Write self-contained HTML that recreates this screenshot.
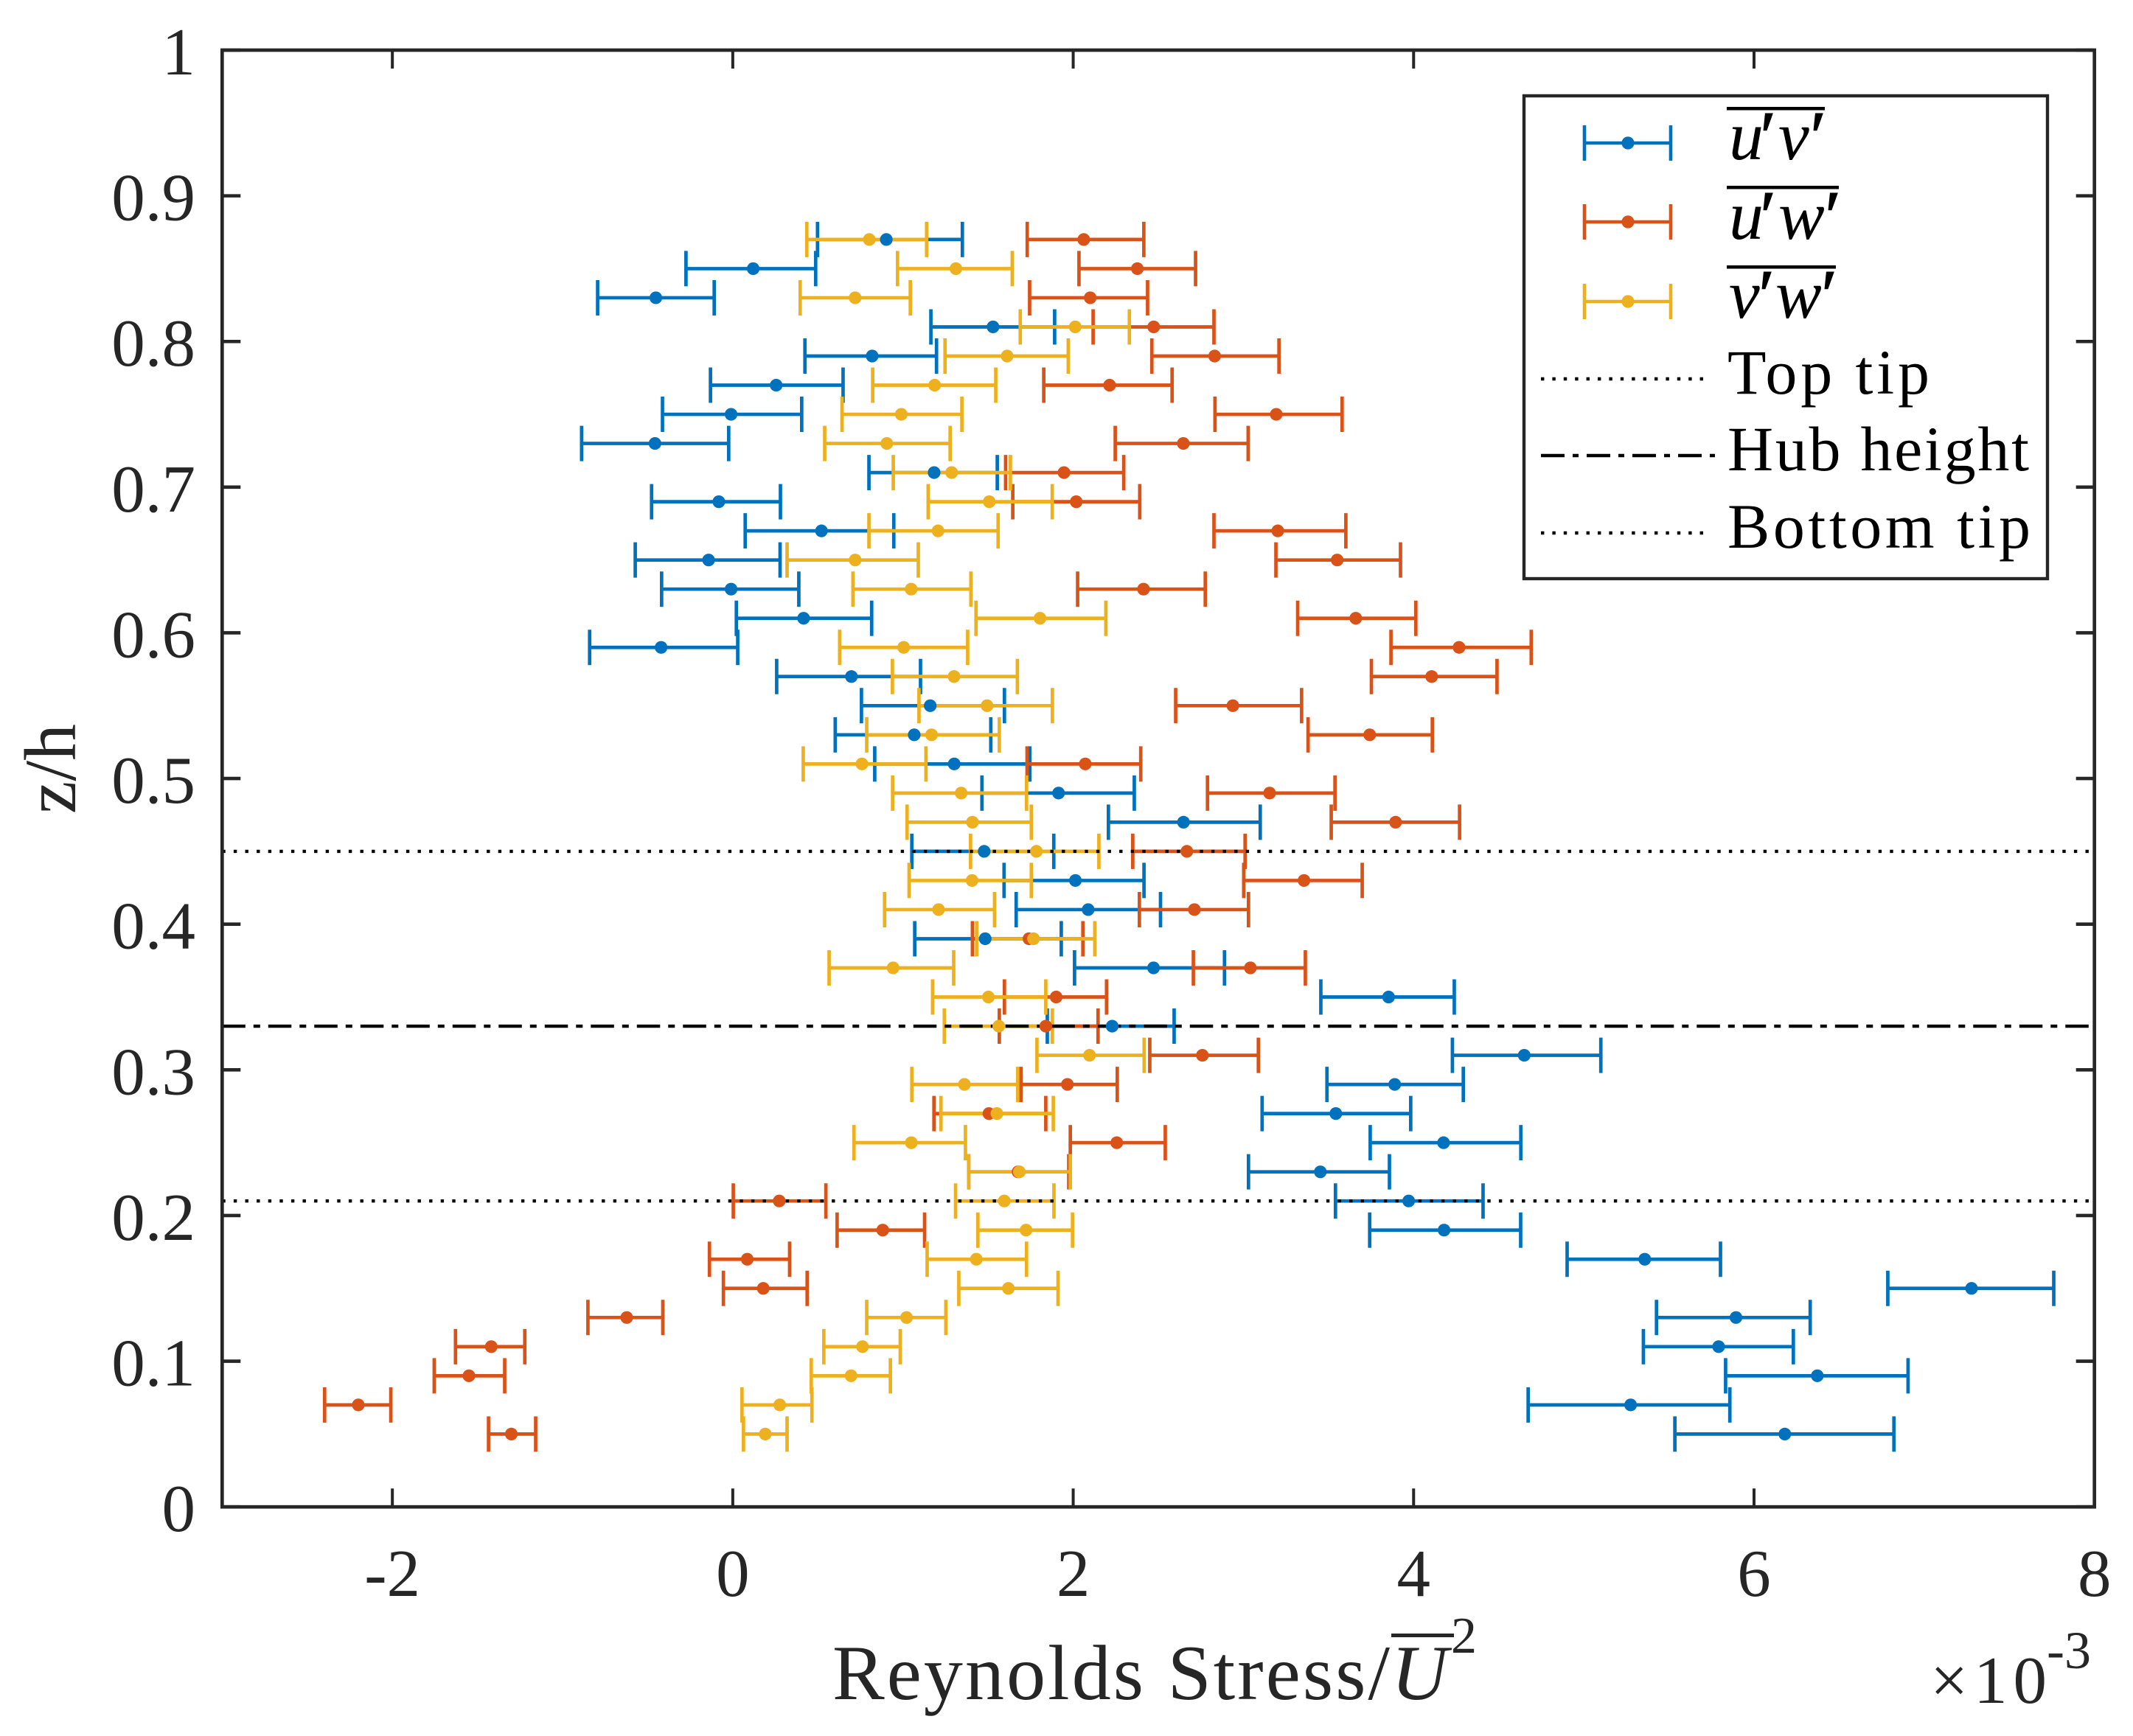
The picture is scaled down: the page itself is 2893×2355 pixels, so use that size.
<!DOCTYPE html>
<html lang="en">
<head>
<meta charset="utf-8">
<title>Reynolds Stress Profile</title>
<style>
html,body{margin:0;padding:0;background:#fff;}
body{width:2893px;height:2355px;overflow:hidden;}
svg{display:block;}
text{font-family:"Liberation Serif",serif;}
.prime{stroke:#000;stroke-width:1.6;}
</style>
</head>
<body>
<svg id="chart" xmlns="http://www.w3.org/2000/svg" width="2893" height="2355" viewBox="0 0 2893 2355">
  <rect x="0" y="0" width="2893" height="2355" fill="#ffffff"/>
  <g id="bars-layer"></g>
  <g id="lines-layer"></g>
  <g id="markers-layer"></g>
  <g id="axes-layer"></g>
  <rect x="301.3" y="68" width="2539.4" height="1976.2" fill="none" stroke="#262626" stroke-width="4.7"/>

  <text transform="translate(102,1104) rotate(-90)" font-size="100" fill="#262626" textLength="122" lengthAdjust="spacingAndGlyphs">z/h</text>
  <text x="1129" y="2305" font-size="106" fill="#262626" textLength="756" lengthAdjust="spacing">Reynolds Stress/</text>
  <text x="1887" y="2305" font-size="106" font-style="italic" fill="#262626">U</text>
  <rect x="1887" y="2216" width="85" height="5" fill="#262626"/>
  <text x="1968" y="2242" font-size="70" fill="#262626">2</text>
  <text x="2618" y="2310" font-size="91" fill="#262626" textLength="158" lengthAdjust="spacing">×10</text>
  <text x="2776" y="2263" font-size="72" fill="#262626">-3</text>

  <g>
    <rect x="2067" y="130" width="710" height="655" fill="#ffffff" stroke="#262626" stroke-width="4.4"/>

    <g stroke="#0072BD" stroke-width="4.6" fill="#0072BD">
      <line x1="2149" y1="194" x2="2266" y2="194"/>
      <line x1="2149" y1="170" x2="2149" y2="218"/>
      <line x1="2266" y1="170" x2="2266" y2="218"/>
      <circle cx="2208" cy="194" r="8.6" stroke="none"/>
    </g>
    <text y="216" font-size="94" font-style="italic" fill="#000000"><tspan x="2345">u</tspan><tspan class="prime" x="2382">′</tspan><tspan x="2412">v</tspan><tspan class="prime" x="2450">′</tspan></text>
    <rect x="2342" y="145" width="133" height="4.5" fill="#000000"/>

    <g stroke="#D95319" stroke-width="4.6" fill="#D95319">
      <line x1="2149" y1="301" x2="2266" y2="301"/>
      <line x1="2149" y1="277" x2="2149" y2="325"/>
      <line x1="2266" y1="277" x2="2266" y2="325"/>
      <circle cx="2208" cy="301" r="8.6" stroke="none"/>
    </g>
    <text y="324" font-size="94" font-style="italic" fill="#000000"><tspan x="2345">u</tspan><tspan class="prime" x="2382">′</tspan><tspan x="2412">w</tspan><tspan class="prime" x="2470">′</tspan></text>
    <rect x="2342" y="252" width="152" height="4.5" fill="#000000"/>

    <g stroke="#EDB120" stroke-width="4.6" fill="#EDB120">
      <line x1="2149" y1="409" x2="2266" y2="409"/>
      <line x1="2149" y1="385" x2="2149" y2="433"/>
      <line x1="2266" y1="385" x2="2266" y2="433"/>
      <circle cx="2208" cy="409" r="8.6" stroke="none"/>
    </g>
    <text y="431" font-size="94" font-style="italic" fill="#000000"><tspan x="2345">v</tspan><tspan class="prime" x="2380">′</tspan><tspan x="2408">w</tspan><tspan class="prime" x="2465">′</tspan></text>
    <rect x="2342" y="360" width="148" height="4.5" fill="#000000"/>

    <line x1="2090" y1="514" x2="2314" y2="514" stroke="#000000" stroke-width="4.4" stroke-dasharray="4.4 11"/>
    <text x="2343" y="534" font-size="86" fill="#000000" textLength="274" lengthAdjust="spacing">Top tip</text>

    <line x1="2090" y1="618" x2="2326" y2="618" stroke="#000000" stroke-width="4.4" stroke-dasharray="32 11 8 11"/>
    <text x="2343" y="638" font-size="86" fill="#000000" textLength="409" lengthAdjust="spacing">Hub height</text>

    <line x1="2090" y1="723" x2="2314" y2="723" stroke="#000000" stroke-width="4.4" stroke-dasharray="4.4 11"/>
    <text x="2343" y="743" font-size="86" fill="#000000" textLength="411" lengthAdjust="spacing">Bottom tip</text>
  </g>
</svg>

<script>
// Measurement heights (z/h)
const heights = [0.05,0.07,0.09,0.11,0.13,0.15,0.17,0.19,0.21,0.23,0.25,0.27,0.29,0.31,0.33,0.35,0.37,0.39,0.41,0.43,0.45,0.47,0.49,0.51,0.53,0.55,0.57,0.59,0.61,0.63,0.65,0.67,0.69,0.71,0.73,0.75,0.77,0.79,0.81,0.83,0.85,0.87];

// u'v' series (units of 1e-3)
const uvMean = [6.181,5.275,6.372,5.792,5.894,7.278,5.358,4.179,3.971,3.452,4.176,3.543,3.889,4.65,2.229,3.853,2.472,1.483,2.088,2.013,1.477,2.648,1.914,1.301,1.066,1.160,0.697,-0.421,0.416,-0.010,-0.142,0.521,-0.082,1.183,-0.457,-0.010,0.255,0.819,1.529,-0.452,0.120,0.902];
const uvLower = [5.535,4.673,5.833,5.350,5.427,6.786,4.902,3.742,3.541,3.030,3.745,3.110,3.491,4.228,1.848,3.455,2.008,1.069,1.665,1.594,1.052,2.207,1.464,0.834,0.602,0.756,0.258,-0.841,0.021,-0.418,-0.573,0.073,-0.477,0.800,-0.888,-0.413,-0.131,0.424,1.164,-0.794,-0.275,0.498];
const uvUpper = [6.822,5.858,6.905,6.231,6.330,7.761,5.803,4.629,4.408,3.858,4.63,3.983,4.292,5.10,2.593,4.239,2.889,1.930,2.513,2.416,1.886,3.099,2.359,1.745,1.516,1.596,1.103,0.029,0.816,0.388,0.278,0.946,0.280,1.554,-0.024,0.405,0.648,1.197,1.891,-0.109,0.487,1.349];

// u'w' series
const uwMean = [-1.301,-2.200,-1.550,-1.419,-0.623,0.179,0.085,0.881,0.273,1.676,2.256,1.505,1.966,2.759,1.839,1.900,3.041,1.740,2.712,3.356,2.668,3.894,3.154,2.071,3.742,2.938,4.106,4.267,3.660,2.413,3.551,3.202,2.018,1.946,2.647,3.193,2.214,2.831,2.473,2.100,2.377,2.062];
const uwLower = [-1.435,-2.398,-1.754,-1.629,-0.851,-0.055,-0.137,0.613,0.003,1.386,1.983,1.182,1.693,2.450,1.566,1.596,2.706,1.408,2.389,3.002,2.350,3.516,2.789,1.729,3.380,2.602,3.752,3.867,3.319,2.026,3.191,2.827,1.645,1.603,2.247,2.833,1.827,2.462,2.117,1.744,2.034,1.730];
const uwUpper = [-1.158,-2.009,-1.340,-1.222,-0.411,0.437,0.334,1.127,0.547,1.974,2.541,1.839,2.259,3.088,2.146,2.196,3.364,2.057,3.030,3.698,3.010,4.270,3.538,2.397,4.110,3.342,4.490,4.691,4.013,2.776,3.923,3.602,2.391,2.297,3.028,3.580,2.581,3.209,2.827,2.437,2.719,2.415];

// v'w' series
const vwMean = [0.191,0.276,0.695,0.762,1.021,1.619,1.431,1.723,1.595,1.684,1.049,1.552,1.361,2.096,1.563,1.502,0.942,1.767,1.209,1.406,1.784,1.408,1.342,0.759,1.168,1.494,1.300,1.004,1.805,1.048,0.719,1.206,1.507,1.286,0.905,0.990,1.186,1.612,2.012,0.719,1.311,0.802];
const vwLower = [0.063,0.054,0.461,0.535,0.787,1.328,1.142,1.440,1.309,1.386,0.712,1.223,1.052,1.787,1.243,1.174,0.566,1.433,0.892,1.036,1.397,1.024,0.939,0.414,0.787,1.094,0.938,0.628,1.429,0.706,0.319,0.800,1.148,0.943,0.540,0.642,0.822,1.247,1.689,0.396,0.968,0.435];
const vwUpper = [0.319,0.465,0.926,0.984,1.252,1.911,1.726,1.996,1.887,1.983,1.367,1.883,1.674,2.417,1.878,1.839,1.298,2.127,1.538,1.754,2.151,1.754,1.726,1.135,1.566,1.878,1.672,1.380,2.192,1.399,1.090,1.559,1.877,1.631,1.277,1.346,1.545,1.971,2.330,1.043,1.642,1.139];

// Reference heights
const topTipHeight = 0.45;
const hubHeight = 0.33;
const bottomTipHeight = 0.21;

// Axis ticks
const xTicks = [-2,0,2,4,6,8];
const xTickLabels = ["-2","0","2","4","6","8"];
const yTicks = [0,0.1,0.2,0.3,0.4,0.5,0.6,0.7,0.8,0.9,1];
const yTickLabels = ["0","0.1","0.2","0.3","0.4","0.5","0.6","0.7","0.8","0.9","1"];

const xDomain = [-3, 8];
const yDomain = [0, 1];
const plotLeft = 301.3, plotRight = 2840.7, plotTop = 68, plotBottom = 2044.2;
const SVG_NS = 'http://www.w3.org/2000/svg';

function xScale(v) {
  return plotLeft + (v - xDomain[0]) / (xDomain[1] - xDomain[0]) * (plotRight - plotLeft);
}
function yScale(v) {
  return plotBottom - (v - yDomain[0]) / (yDomain[1] - yDomain[0]) * (plotBottom - plotTop);
}
function svgEl(tag, attrs, parent) {
  const el = document.createElementNS(SVG_NS, tag);
  for (const key in attrs) el.setAttribute(key, attrs[key]);
  parent.appendChild(el);
  return el;
}

const barsLayer = document.getElementById('bars-layer');
const linesLayer = document.getElementById('lines-layer');
const markersLayer = document.getElementById('markers-layer');
const axesLayer = document.getElementById('axes-layer');

const CAP_HALF = 24;
const BAR_WIDTH = 4.7;
const MARKER_R = 8.6;

function drawSeries(name, color, mean, lower, upper) {
  const group = svgEl('g', {stroke: color, 'stroke-width': BAR_WIDTH, fill: 'none'}, barsLayer);
  
  
  heights.forEach(function (z, i) {
    const y = yScale(z);
    const lo = xScale(lower[i]);
    const hi = xScale(upper[i]);
    const bar = svgEl('path', {d: 'M' + lo + ' ' + (y - CAP_HALF) + 'V' + (y + CAP_HALF) + 'M' + lo + ' ' + y + 'H' + hi + 'M' + hi + ' ' + (y - CAP_HALF) + 'V' + (y + CAP_HALF)}, group);
    
    
  });
  const dots = svgEl('g', {fill: color}, markersLayer);
  
  
  heights.forEach(function (z, i) {
    const dot = svgEl('circle', {cx: xScale(mean[i]), cy: yScale(z), r: MARKER_R}, dots);
    
    
  });
}

drawSeries('uv', '#0072BD', uvMean, uvLower, uvUpper);
drawSeries('uw', '#D95319', uwMean, uwLower, uwUpper);
drawSeries('vw', '#EDB120', vwMean, vwLower, vwUpper);

function drawRefLine(name, z, dash) {
  const line = svgEl('line', {x1: plotLeft, x2: plotRight, y1: yScale(z), y2: yScale(z), stroke: '#000000', 'stroke-width': 4.4, 'stroke-dasharray': dash}, linesLayer);
  
  
}
drawRefLine('top-tip-line', topTipHeight, '4.4 11.2');
drawRefLine('hub-height-line', hubHeight, '31.5 11 9 11');
drawRefLine('bottom-tip-line', bottomTipHeight, '4.4 11.2');

const TICK_LEN = 25;
xTicks.forEach(function (t, i) {
  const x = xScale(t);
  const tickPath = svgEl('path', {d: 'M' + x + ' ' + plotBottom + 'v' + (-TICK_LEN) + 'M' + x + ' ' + plotTop + 'v' + TICK_LEN, stroke: '#262626', 'stroke-width': 4, fill: 'none'}, axesLayer);
  
  
  const label = svgEl('text', {x: x, y: 2165, 'font-size': 91, fill: '#262626', 'text-anchor': 'middle'}, axesLayer);
  
  
  label.textContent = xTickLabels[i];
});
yTicks.forEach(function (t, i) {
  const y = yScale(t);
  const tickPath = svgEl('path', {d: 'M' + plotLeft + ' ' + y + 'h' + TICK_LEN + 'M' + plotRight + ' ' + y + 'h' + (-TICK_LEN), stroke: '#262626', 'stroke-width': 4.6, fill: 'none'}, axesLayer);
  
  
  const label = svgEl('text', {x: 265, y: y + 33, 'font-size': 91, fill: '#262626', 'text-anchor': 'end'}, axesLayer);
  
  
  label.textContent = yTickLabels[i];
});
</script>
</body>
</html>
